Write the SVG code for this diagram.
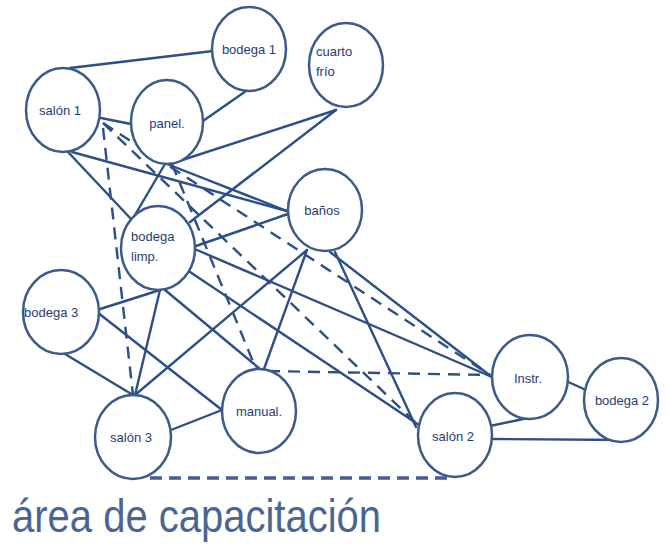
<svg xmlns="http://www.w3.org/2000/svg" width="670" height="550" viewBox="0 0 670 550">
<style>
.n ellipse{fill:#ffffff;stroke:#3b5a8c;stroke-width:2.5}
.n text{font-family:"Liberation Sans",Arial,sans-serif;font-size:13px;fill:#1f3d73}
.c line{stroke:#2c4f88;stroke-width:2.4;stroke-linecap:round}
.c line.d{stroke-dasharray:12 8;stroke-linecap:butt}
.c line.b{stroke:#4a5a92;stroke-width:3.5;stroke-dasharray:12 7;stroke-linecap:butt}
.t{font-family:"Liberation Sans",Arial,sans-serif;font-size:40px;fill:#4a6690}
</style>
<rect width="670" height="550" fill="#ffffff"/>
<g id="connectors" class="c">
<line x1="70" y1="68" x2="213" y2="51"/>
<line x1="246" y1="91" x2="203" y2="121"/>
<line x1="101" y1="118" x2="131" y2="124"/>
<line x1="336" y1="110" x2="170" y2="164"/>
<line x1="336" y1="110" x2="190" y2="222"/>
<line x1="68" y1="152" x2="132" y2="220"/>
<line x1="165" y1="164" x2="132" y2="220"/>
<line x1="72" y1="152" x2="287" y2="211"/>
<line x1="167" y1="164" x2="287" y2="211"/>
<line x1="196" y1="246" x2="288" y2="214"/>
<line x1="197" y1="250" x2="492" y2="377"/>
<line x1="190" y1="272" x2="419" y2="425"/>
<line x1="165" y1="290" x2="260" y2="369"/>
<line x1="160" y1="290" x2="97" y2="310"/>
<line x1="160" y1="290" x2="135" y2="395"/>
<line x1="65" y1="354" x2="133" y2="395"/>
<line x1="97" y1="312" x2="222" y2="410"/>
<line x1="171" y1="430" x2="222" y2="410"/>
<line x1="307" y1="250" x2="135" y2="395"/>
<line x1="307" y1="250" x2="264" y2="369"/>
<line x1="330" y1="252" x2="492" y2="377"/>
<line x1="335" y1="252" x2="416" y2="427"/>
<line x1="566" y1="381" x2="586" y2="390"/>
<line x1="490" y1="426" x2="528" y2="418"/>
<line x1="492" y1="439" x2="628" y2="440"/>
<line class="d" x1="103" y1="128" x2="133" y2="395"/>
<line class="d" x1="103" y1="123" x2="490" y2="375"/>
<line class="d" x1="103" y1="123" x2="418" y2="425"/>
<line class="d" x1="172" y1="164" x2="256" y2="369"/>
<line class="d" x1="268" y1="371" x2="490" y2="375"/>
<line class="b" x1="150" y1="478" x2="452" y2="478"/>
</g>
<g id="bodega1" class="n"><ellipse cx="249" cy="49" rx="37" ry="42"/><text x="249" y="54" text-anchor="middle">bodega 1</text></g>
<g id="cuartofrio" class="n"><ellipse cx="346" cy="65" rx="37" ry="42"/><text x="316" y="56">cuarto</text><text x="316" y="76">frío</text></g>
<g id="salon1" class="n"><ellipse cx="63" cy="110" rx="37" ry="42"/><text x="60" y="115" text-anchor="middle">salón 1</text></g>
<g id="panel" class="n"><ellipse cx="167" cy="122" rx="36" ry="42"/><text x="167" y="128" text-anchor="middle">panel.</text></g>
<g id="banos" class="n"><ellipse cx="325" cy="210" rx="37" ry="41"/><text x="322" y="215" text-anchor="middle">baños</text></g>
<g id="bodegalimp" class="n"><ellipse cx="158" cy="248" rx="37" ry="42"/><text x="131" y="241">bodega</text><text x="131" y="261">limp.</text></g>
<g id="bodega3" class="n"><ellipse cx="61" cy="312" rx="38" ry="42"/><text x="24" y="317">bodega 3</text></g>
<g id="salon3" class="n"><ellipse cx="133" cy="437" rx="38" ry="42"/><text x="131" y="442" text-anchor="middle">salón 3</text></g>
<g id="manual" class="n"><ellipse cx="259" cy="411" rx="37" ry="42"/><text x="259" y="416" text-anchor="middle">manual.</text></g>
<g id="instr" class="n"><ellipse cx="530" cy="377" rx="38" ry="42"/><text x="528" y="383" text-anchor="middle">Instr.</text></g>
<g id="bodega2" class="n"><ellipse cx="621" cy="400" rx="37" ry="42"/><text x="622" y="405" text-anchor="middle">bodega 2</text></g>
<g id="salon2" class="n"><ellipse cx="455" cy="435" rx="37" ry="42"/><text x="453" y="441" text-anchor="middle">salón 2</text></g>
<text class="t" transform="translate(12,532) scale(1,1.15)">área de capacitación</text>
</svg>
